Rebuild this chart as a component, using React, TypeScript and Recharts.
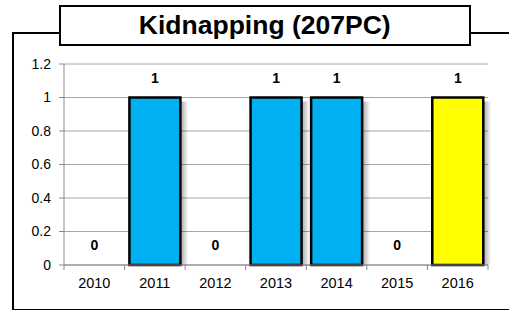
import React from "react";
import { Bar, BarChart, CartesianGrid, LabelList, XAxis, YAxis } from "recharts";

const years = ["2010", "2011", "2012", "2013", "2014", "2015", "2016"];
const cases = [0, 1, 0, 1, 1, 0, 1];
const barColors = ["#00B0F0", "#00B0F0", "#00B0F0", "#00B0F0", "#00B0F0", "#00B0F0", "#FFFF00"];
const yTicks = [0, 0.2, 0.4, 0.6, 0.8, 1, 1.2];

const data = years.map((year, i) => ({ year, cases: cases[i], color: barColors[i] }));

const W = 509;
const H = 310;
const PLOT_LEFT = 64;
const PLOT_RIGHT = 21;
const BAND = (W - PLOT_LEFT - PLOT_RIGHT) / years.length;
const FONT = "'Liberation Sans', Arial, sans-serif";

function ShadowBar(props: any) {
  const { x, y, width, height, index, payload } = props;
  if (!height || height <= 0) return null;
  const gid = "shadow-" + index;
  return (
    <g>
      <defs>
        <linearGradient id={gid} x1="0" y1="0" x2="1" y2="0">
          <stop offset="0%" stopColor="#000" stopOpacity={0.35} />
          <stop offset="100%" stopColor="#000" stopOpacity={0} />
        </linearGradient>
      </defs>
      <rect x={x + width} y={y + 4} width={8} height={height - 4} fill={`url(#${gid})`} />
      <rect x={x} y={y} width={width} height={height} fill={payload.color} stroke="#000" strokeWidth={2.5} />
    </g>
  );
}

function YearTick(props: any) {
  const { x, y, payload, index } = props;
  const left = x - BAND / 2;
  return (
    <g>
      <line x1={left} y1={y - 8} x2={left} y2={y - 3} stroke="#898989" />
      {index === years.length - 1 && (
        <line x1={x + BAND / 2} y1={y - 8} x2={x + BAND / 2} y2={y - 3} stroke="#898989" />
      )}
      <text x={x} y={y + 15} textAnchor="middle" fontSize={14.5} fontFamily={FONT} fill="#000">
        {payload.value}
      </text>
    </g>
  );
}

export default function App() {
  return (
    <div style={{ position: "absolute", left: 0, top: 0, width: W, height: H, background: "#fff" }}>
      <div
        style={{
          position: "absolute",
          left: 12,
          top: 32,
          width: W,
          height: 275,
          border: "2px solid #000",
        }}
      />
      <div style={{ position: "absolute", left: 0, top: 0 }}>
        <BarChart
          width={W}
          height={H}
          data={data}
          margin={{ top: 64, right: PLOT_RIGHT, left: 14, bottom: 15 }}
          barCategoryGap="8%"
        >
          <CartesianGrid vertical={false} stroke="#a6a6a6" />
          <XAxis
            dataKey="year"
            tickLine={false}
            axisLine={{ stroke: "#898989" }}
            height={30}
            tick={<YearTick />}
            interval={0}
          />
          <YAxis
            domain={[0, 1.2]}
            ticks={yTicks}
            width={50}
            tickSize={5}
            tickMargin={8}
            axisLine={{ stroke: "#898989" }}
            tickLine={{ stroke: "#898989" }}
            tick={{ fontSize: 14, fontFamily: FONT, fill: "#000" }}
          />
          <Bar dataKey="cases" isAnimationActive={false} shape={<ShadowBar />}>
            <LabelList
              dataKey="cases"
              position="top"
              offset={15}
              style={{ fontSize: 14, fontWeight: "bold", fontFamily: FONT, fill: "#000" }}
            />
          </Bar>
        </BarChart>
      </div>
      <div
        style={{
          position: "absolute",
          left: 59,
          top: 5,
          width: 408,
          height: 37,
          border: "2px solid #000",
          background: "#fff",
          display: "flex",
          alignItems: "center",
          justifyContent: "center",
          fontFamily: FONT,
          fontWeight: "bold",
          fontSize: 25,
        }}
      >
        <span style={{ display: "inline-block", transform: "scaleX(1.06)" }}>Kidnapping (207PC)</span>
      </div>
    </div>
  );
}
